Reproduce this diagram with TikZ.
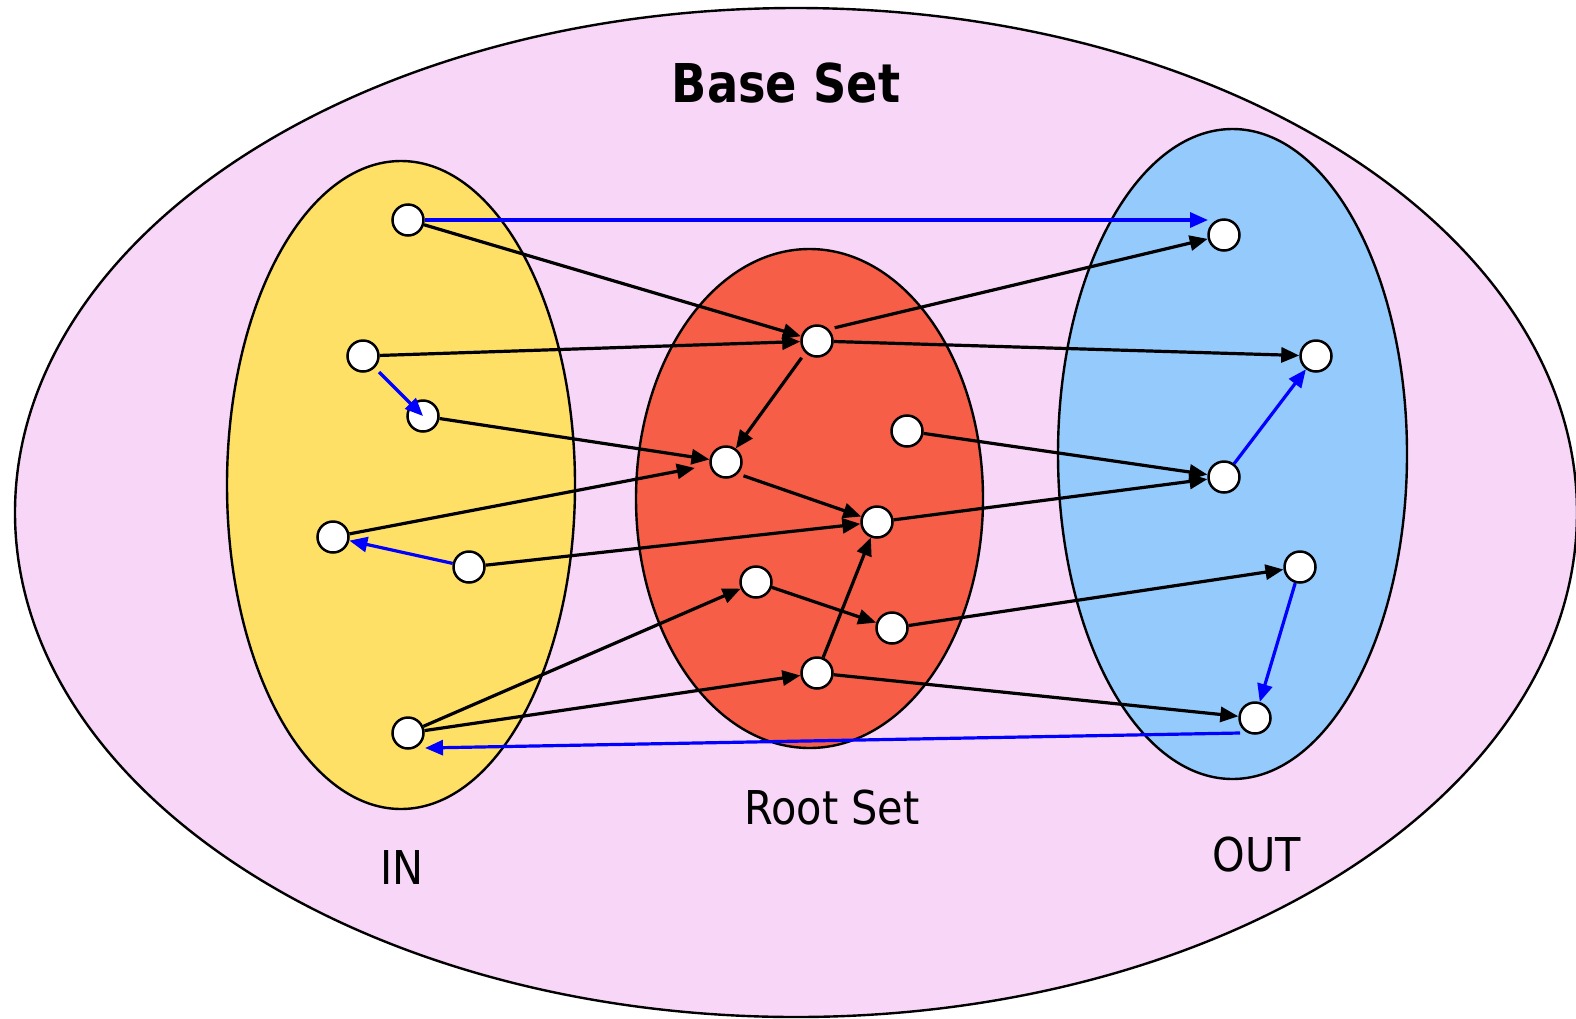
\documentclass[tikz,border=0pt]{standalone}
\usepackage{fontspec}
\usetikzlibrary{arrows.meta}
\newfontfamily\labfont{DejaVu Sans}[FakeStretch=0.89]
\newfontfamily\ttlfont{DejaVu Sans Bold}[FakeStretch=0.865]
\definecolor{basepink}{RGB}{248,214,247}
\definecolor{inyellow}{RGB}{255,224,102}
\definecolor{rootred}{RGB}{246,94,71}
\definecolor{outblue}{RGB}{149,202,253}
\definecolor{linkblue}{RGB}{0,0,255}
\begin{document}
\begin{tikzpicture}[x=1pt,y=-1pt,
  setline/.style={draw=black,line width=2.4pt},
  vtx/.style={circle,draw=black,fill=white,line width=2.5pt,minimum size=31pt,inner sep=0pt},
  blk/.style={draw=black,line width=3.2pt,-{Triangle[length=18pt,width=15pt]}},
  blu/.style={draw=linkblue,line width=3.2pt,-{Triangle[length=18pt,width=15pt]}},
  lab/.style={anchor=base,inner sep=0pt,font=\labfont\fontsize{46.6pt}{50pt}\selectfont},
  ttl/.style={anchor=base,inner sep=0pt,font=\ttlfont\fontsize{53.5pt}{56pt}\selectfont}]
\useasboundingbox (0,0) rectangle (1576,1018);
% sets
\path[setline,fill=basepink] (796,512.5) ellipse [x radius=781pt, y radius=504.5pt];
\path[setline,fill=inyellow] (401,485) ellipse [x radius=174pt, y radius=324pt];
\path[setline,fill=rootred] (809.5,498.5) ellipse [x radius=173.5pt, y radius=249.5pt];
\path[setline,fill=outblue] (1232.5,454) ellipse [x radius=174.5pt, y radius=325pt];
% labels
\node[ttl] (tbase) at (786,102) {Base Set};
\node[lab] (troot) at (832,824) {Root Set};
\node[lab] (tin) at (402,884) {IN};
\node[lab] (tout) at (1257,871) {OUT};
% IN nodes
\node[vtx] (A1) at (408,220) {};
\node[vtx] (A2) at (363,356) {};
\node[vtx] (A3) at (423,416) {};
\node[vtx] (A4) at (333,537) {};
\node[vtx] (A5) at (469,567) {};
\node[vtx] (A6) at (408,733) {};
% Root nodes
\node[vtx] (R1) at (817,341) {};
\node[vtx] (R2) at (726,462) {};
\node[vtx] (R3) at (907,431) {};
\node[vtx] (R4) at (877,522) {};
\node[vtx] (R5) at (756,582) {};
\node[vtx] (R6) at (892,628) {};
\node[vtx] (R7) at (817,673) {};
% OUT nodes
\node[vtx] (O1) at (1224,235) {};
\node[vtx] (O2) at (1316,356) {};
\node[vtx] (O3) at (1224,477) {};
\node[vtx] (O4) at (1300,567) {};
\node[vtx] (O5) at (1255,718) {};
% free ends
\coordinate (b1end) at (1208,220);
\coordinate (b6start) at (1240,733);
\coordinate (b6end) at (425,748);
% black links
\draw[blk] (A1) -- (R1);
\draw[blk] (A2) -- (R1);
\draw[blk] (A3) -- (R2);
\draw[blk,shorten >=15pt] (A4) -- (R2);
\draw[blk] (A5) -- (R4);
\draw[blk] (A6) -- (R5);
\draw[blk] (A6) -- (R7);
\draw[blk,shorten <=6pt] (R1.45) -- (O1);
\draw[blk] (R1) -- (O2);
\draw[blk,shorten <=6pt] (R1.-135) -- (R2);
\draw[blk,shorten <=6pt] (R2.-45) -- (R4);
\draw[blk] (R3) -- (O3);
\draw[blk] (R4) -- (O3);
\draw[blk] (R5) -- (R6);
\draw[blk] (R6) -- (O4);
\draw[blk] (R7) -- (R4);
\draw[blk] (R7) -- (O5);
% blue links
\draw[blu] (A1) -- (b1end);
\draw[blu,shorten <=6pt] (A2.-45) -- (A3.center);
\draw[blu] (A5) -- (A4);
\draw[blu] (O3) -- (O2);
\draw[blu] (O4) -- (O5);
\draw[blu] (b6start) -- (b6end);
\end{tikzpicture}
\end{document}
